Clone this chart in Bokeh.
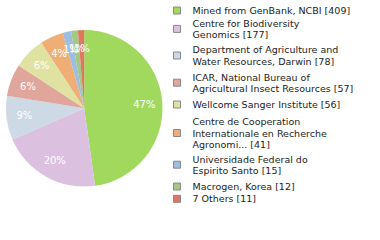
import math
from bokeh.plotting import figure
from bokeh.models import ColumnDataSource
from bokeh.core.properties import value
from bokeh.embed import file_html
from bokeh.resources import INLINE

# ---- data ----
categories = [
    "Mined from GenBank, NCBI",
    "Centre for Biodiversity\nGenomics",
    "Department of Agriculture and\nWater Resources, Darwin",
    "ICAR, National Bureau of\nAgricultural Insect Resources",
    "Wellcome Sanger Institute",
    "Centre de Cooperation\nInternationale en Recherche\nAgronomi...",
    "Universidade Federal do\nEspirito Santo",
    "Macrogen, Korea",
    "7 Others",
]
counts = [409, 177, 78, 57, 56, 41, 15, 12, 11]
colors = ["#a0d95e", "#dcc0e0", "#cdd9e5", "#e0a69b", "#dfe2a1",
          "#efae76", "#9ebde2", "#a3c880", "#e07560"]

# ---- layout ----
W, H = 380, 240
cx, cy_px, R = 83.7, 107.8, 78.3
label_r = 0.77 * R
legend_sq_x = 176.5
legend_text_x = 192
legend_y_px = [10, 28.4, 55, 82.2, 104, 132.5, 164.2, 186, 198.3]
line_h = 11.4

total = sum(counts)
starts, ends, lx, ly, labels = [], [], [], [], []
cum = 0
for c in counts:
    a0 = math.pi / 2 - 2 * math.pi * cum / total
    a1 = math.pi / 2 - 2 * math.pi * (cum + c) / total
    mid = (a0 + a1) / 2
    starts.append(a0)
    ends.append(a1)
    lx.append(cx + label_r * math.cos(mid))
    ly.append(H - cy_px + label_r * math.sin(mid))
    labels.append(f"{int(100 * c / total)}%")
    cum += c

p = figure(width=W, height=H, x_range=(0, W), y_range=(0, H),
           x_axis_type=None, y_axis_type=None, min_border=0,
           toolbar_location=None, output_backend="svg")
p.grid.visible = False
p.outline_line_color = None
p.background_fill_color = "white"

src = ColumnDataSource(dict(start=starts, end=ends, color=colors))
p.wedge(x=cx, y=H - cy_px, radius=R, start_angle="start", end_angle="end",
        direction="clock", fill_color="color", line_color=None, source=src)

p.text(x=lx, y=ly, text=labels, text_color="white",
       text_font=value("DejaVu Sans"), text_font_size="10px",
       text_align="center", text_baseline="middle")

# legend
sq_y = [H - y for y in legend_y_px]
p.rect(x=[legend_sq_x] * len(colors), y=sq_y, width=7, height=7,
       fill_color=colors, line_color="#888888", line_width=1)

tx, ty, tt = [], [], []
for cat, n, yc in zip(categories, counts, legend_y_px):
    lines = (cat + f" [{n}]").split("\n")
    k = len(lines)
    for i, ln in enumerate(lines):
        tx.append(legend_text_x)
        ty.append(H - (yc + (i - (k - 1) / 2) * line_h))
        tt.append(ln)
p.text(x=tx, y=ty, text=tt, text_color="#222222",
       text_font=value("DejaVu Sans"), text_font_size="9.5px",
       text_align="left", text_baseline="middle")

open("out.html", "w").write(file_html(p, INLINE))
